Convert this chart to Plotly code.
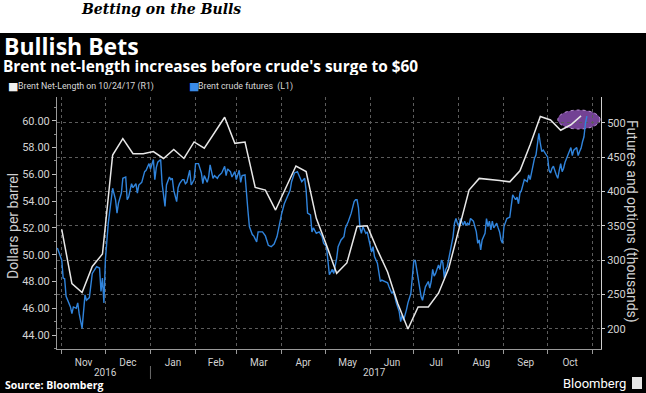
import plotly.graph_objects as go

# ---------------- data ----------------
crude_dates = [
    "2016-10-29", "2016-11-01", "2016-11-02", "2016-11-03", "2016-11-04", "2016-11-07", "2016-11-08",
    "2016-11-09", "2016-11-11", "2016-11-12", "2016-11-13", "2016-11-14", "2016-11-15", "2016-11-17",
    "2016-11-18", "2016-11-20", "2016-11-22", "2016-11-25", "2016-11-27", "2016-11-28", "2016-11-29",
    "2016-11-30", "2016-12-01", "2016-12-03", "2016-12-05", "2016-12-06", "2016-12-08", "2016-12-09",
    "2016-12-10", "2016-12-12", "2016-12-13", "2016-12-15", "2016-12-16", "2016-12-17", "2016-12-19",
    "2016-12-20", "2016-12-22", "2016-12-23", "2016-12-24", "2016-12-26", "2016-12-28", "2016-12-29",
    "2016-12-31", "2017-01-01", "2017-01-03", "2017-01-04", "2017-01-05", "2017-01-06", "2017-01-08",
    "2017-01-09", "2017-01-11", "2017-01-12", "2017-01-14", "2017-01-15", "2017-01-16", "2017-01-17",
    "2017-01-19", "2017-01-20", "2017-01-21", "2017-01-23", "2017-01-24", "2017-01-25", "2017-01-26",
    "2017-01-28", "2017-01-29", "2017-01-31", "2017-02-01", "2017-02-03", "2017-02-05", "2017-02-06",
    "2017-02-07", "2017-02-09", "2017-02-10", "2017-02-11", "2017-02-13", "2017-02-14", "2017-02-16",
    "2017-02-17", "2017-02-19", "2017-02-21", "2017-02-22", "2017-02-23", "2017-02-25", "2017-02-26",
    "2017-02-28", "2017-03-01", "2017-03-03", "2017-03-04", "2017-03-05", "2017-03-07", "2017-03-09",
    "2017-03-10", "2017-03-12", "2017-03-13", "2017-03-15", "2017-03-16", "2017-03-18", "2017-03-19",
    "2017-03-21", "2017-03-22", "2017-03-23", "2017-03-25", "2017-03-27", "2017-03-29", "2017-03-31",
    "2017-04-01", "2017-04-03", "2017-04-05", "2017-04-07", "2017-04-08", "2017-04-10", "2017-04-12",
    "2017-04-13", "2017-04-15", "2017-04-17", "2017-04-18", "2017-04-19", "2017-04-21", "2017-04-22",
    "2017-04-23", "2017-04-25", "2017-04-27", "2017-04-29", "2017-04-30", "2017-05-02", "2017-05-03",
    "2017-05-04", "2017-05-06", "2017-05-07", "2017-05-09", "2017-05-10", "2017-05-12", "2017-05-14",
    "2017-05-15", "2017-05-17", "2017-05-19", "2017-05-20", "2017-05-21", "2017-05-22", "2017-05-23",
    "2017-05-24", "2017-05-25", "2017-05-26", "2017-05-27", "2017-05-29", "2017-05-30", "2017-05-31",
    "2017-06-01", "2017-06-02", "2017-06-03", "2017-06-04", "2017-06-06", "2017-06-08", "2017-06-09",
    "2017-06-11", "2017-06-13", "2017-06-14", "2017-06-16", "2017-06-17", "2017-06-19", "2017-06-21",
    "2017-06-22", "2017-06-23", "2017-06-24", "2017-06-26", "2017-06-27", "2017-06-29", "2017-06-30",
    "2017-07-01", "2017-07-02", "2017-07-03", "2017-07-05", "2017-07-06", "2017-07-07", "2017-07-08",
    "2017-07-09", "2017-07-11", "2017-07-12", "2017-07-13", "2017-07-14", "2017-07-15", "2017-07-16",
    "2017-07-18", "2017-07-19", "2017-07-20", "2017-07-21", "2017-07-22", "2017-07-23", "2017-07-24",
    "2017-07-25", "2017-07-27", "2017-07-28", "2017-07-29", "2017-07-30", "2017-07-31", "2017-08-01",
    "2017-08-02", "2017-08-04", "2017-08-05", "2017-08-06", "2017-08-07", "2017-08-08", "2017-08-09",
    "2017-08-11", "2017-08-12", "2017-08-13", "2017-08-14", "2017-08-15", "2017-08-16", "2017-08-17",
    "2017-08-19", "2017-08-20", "2017-08-21", "2017-08-22", "2017-08-23", "2017-08-24", "2017-08-25",
    "2017-08-27", "2017-08-28", "2017-08-29", "2017-08-30", "2017-08-31", "2017-09-01", "2017-09-02",
    "2017-09-03", "2017-09-05", "2017-09-06", "2017-09-07", "2017-09-09", "2017-09-10", "2017-09-11",
    "2017-09-12", "2017-09-13", "2017-09-14", "2017-09-15", "2017-09-17", "2017-09-18", "2017-09-19",
    "2017-09-20", "2017-09-21", "2017-09-22", "2017-09-23", "2017-09-24", "2017-09-25", "2017-09-26",
    "2017-09-27", "2017-09-28", "2017-09-30", "2017-10-01", "2017-10-02", "2017-10-03", "2017-10-04",
    "2017-10-05", "2017-10-07", "2017-10-08", "2017-10-09", "2017-10-10", "2017-10-11", "2017-10-12",
    "2017-10-13", "2017-10-14", "2017-10-16", "2017-10-17", "2017-10-18", "2017-10-19", "2017-10-21",
    "2017-10-22", "2017-10-23", "2017-10-24", "2017-10-25", "2017-10-26", "2017-10-27", "2017-10-28",
]
crude_values = [
    50.5, 49.6, 48.25, 48.2, 46.9, 46.1, 45.6,
    46.1, 46.0, 46.4, 45.6, 45.1, 44.5, 47.0,
    46.6, 46.8, 48.6, 49.1, 49.0, 47.25, 48.25,
    46.4, 49.6, 52.35, 54.3, 54.96, 54.1, 53.1,
    53.85, 54.6, 55.7, 55.8, 54.1, 54.3, 55.3,
    55.0, 55.3, 54.6, 55.2, 55.4, 56.2, 56.3,
    56.8, 56.4, 57.1, 55.6, 56.5, 56.9, 57.1,
    55.3, 53.6, 55.2, 55.8, 55.6, 55.7, 54.8,
    53.96, 55.0, 55.3, 55.6, 55.6, 55.3, 55.4,
    56.3, 55.2, 55.6, 56.8, 56.8, 56.1, 55.3,
    55.9, 55.4, 55.8, 56.7, 55.7, 55.9, 55.7,
    55.9, 56.1, 56.6, 55.9, 56.4, 56.2, 55.8,
    56.2, 55.6, 56.3, 55.4, 55.9, 55.95, 53.3,
    52.1, 51.5, 51.4, 50.95, 51.7, 51.7, 51.7,
    51.4, 51.1, 50.7, 50.6, 50.8, 51.35, 52.6,
    52.97, 53.8, 54.3, 54.8, 55.45, 56.1, 56.2,
    55.9, 55.45, 55.7, 54.8, 53.1, 52.97, 51.7,
    52.0, 51.6, 51.7, 51.35, 50.85, 50.6, 49.37,
    48.5, 48.9, 48.6, 49.74, 50.6, 51.1, 51.35,
    52.0, 52.47, 53.1, 53.6, 53.96, 54.1, 54.1,
    53.5, 52.0, 51.6, 52.1, 51.6, 51.7, 51.2,
    50.6, 50.2, 50.6, 49.86, 49.37, 48.0, 48.1,
    48.0, 47.9, 47.6, 47.1, 47.3, 46.4, 45.75,
    45.0, 45.5, 45.1, 45.9, 46.4, 47.1, 48.6,
    49.5, 49.6, 48.9, 47.75, 46.9, 46.6, 47.0,
    47.6, 48.0, 47.5, 48.0, 48.9, 48.4, 48.6,
    49.24, 48.9, 49.6, 49.4, 48.25, 48.9, 49.1,
    49.6, 50.6, 51.35, 52.35, 52.7, 52.35, 52.1,
    52.7, 52.2, 52.5, 52.2, 52.35, 52.2, 52.7,
    52.5, 52.1, 51.7, 50.85, 51.1, 50.36, 51.1,
    51.6, 52.7, 52.1, 52.5, 51.85, 52.5, 52.0,
    52.35, 52.0, 51.7, 51.1, 50.85, 52.1, 52.35,
    52.7, 52.8, 53.6, 54.46, 54.1, 54.3, 53.8,
    54.6, 54.8, 55.2, 55.6, 55.45, 55.95, 55.6,
    56.2, 56.57, 57.2, 57.44, 58.3, 59.06, 58.3,
    57.7, 57.8, 57.44, 57.3, 56.3, 56.1, 56.45,
    56.6, 55.95, 55.7, 56.3, 56.8, 56.2, 56.45,
    56.9, 57.2, 57.8, 58.0, 57.4, 57.8, 58.0,
    57.4, 57.7, 57.94, 58.43, 58.8, 59.8, 60.35,
]

netlen_dates = [
    "2016-11-01", "2016-11-08", "2016-11-15", "2016-11-22", "2016-11-29", "2016-12-06", "2016-12-13",
    "2016-12-20", "2016-12-27", "2017-01-03", "2017-01-10", "2017-01-17", "2017-01-24", "2017-01-31",
    "2017-02-07", "2017-02-14", "2017-02-21", "2017-02-28", "2017-03-07", "2017-03-14", "2017-03-21",
    "2017-03-28", "2017-04-04", "2017-04-11", "2017-04-18", "2017-04-25", "2017-05-02", "2017-05-09",
    "2017-05-16", "2017-05-23", "2017-05-30", "2017-06-06", "2017-06-13", "2017-06-20", "2017-06-27",
    "2017-07-04", "2017-07-11", "2017-07-18", "2017-07-25", "2017-08-01", "2017-08-08", "2017-08-15",
    "2017-08-22", "2017-08-29", "2017-09-05", "2017-09-12", "2017-09-19", "2017-09-26", "2017-10-03",
    "2017-10-10", "2017-10-17", "2017-10-24",
]
netlen_values = [
    345, 266, 253, 291, 309, 453, 477,
    455, 455, 458, 448, 461, 448, 472,
    463, 485, 508, 470, 472, 406, 402,
    373, 405, 437, 429, 361, 322, 281,
    296, 349, 350, 315, 283, 237, 200,
    232, 232, 252, 288, 344, 402, 419,
    418, 416, 414, 430, 468, 509, 504,
    489, 497, 510,
]

left_ticks = [44, 46, 48, 50, 52, 54, 56, 58, 60]
right_ticks = [200, 250, 300, 350, 400, 450, 500]
year_labels = ["2016", "2017"]
year_centers = ["2016-12-01", "2017-06-04"]
year_break = "2017-01-01"
highlight_x = ["2017-10-08", "2017-11-06"]
highlight_y = [490.8, 518.5]

# ---------------- layout helpers ----------------
W, H = 646, 393
ML, MR, MT, MB = 57, 45, 97, 44
PW = W - ML - MR
PH = H - MT - MB


def px(x):
    return (x - ML) / PW


def py(y):
    return (H - MB - y) / PH


SANS = "Roboto, Liberation Sans, sans-serif"
TICK_FONT = dict(family=SANS, size=11, color="#d2d2d2")
XTICK_FONT = dict(family=SANS, size=10, color="#d2d2d2")
GRID = "#5c5c5c"

fig = go.Figure()
fig.add_trace(go.Scatter(
    x=crude_dates, y=crude_values, mode="lines", yaxis="y",
    line=dict(color="#3084dc", width=1.4), showlegend=False, hoverinfo="skip",
))
fig.add_trace(go.Scatter(
    x=netlen_dates, y=netlen_values, mode="lines", yaxis="y2",
    line=dict(color="#e8e8e8", width=1.5), showlegend=False, hoverinfo="skip",
))

fig.update_layout(
    width=W, height=H,
    margin=dict(l=ML, r=MR, t=MT, b=MB, autoexpand=False),
    paper_bgcolor="black", plot_bgcolor="black",
    xaxis=dict(
        type="date", range=["2016-10-28 18:00", "2017-11-06 17:00"],
        tick0="2016-11-01", dtick="M1", tickformat="%b", ticklabelmode="period",
        ticks="outside", ticklen=4, tickcolor="#9a9a9a",
        showgrid=True, gridcolor=GRID, griddash="dot", gridwidth=1,
        showline=True, linecolor="#9a9a9a", linewidth=1, zeroline=False,
        tickfont=XTICK_FONT,
    ),
    yaxis=dict(
        range=[42.96, 61.77], tickvals=left_ticks, ticktext=[f"{v:.2f}" for v in left_ticks],
        ticks="outside", ticklen=4, tickcolor="#bdbdbd",
        minor=dict(ticks="outside", ticklen=2, dtick=1, tickcolor="#8a8a8a", showgrid=False),
        showgrid=False, zeroline=False, showline=True, linecolor="#9a9a9a", linewidth=1,
        tickfont=TICK_FONT,
    ),
    yaxis2=dict(
        overlaying="y", side="right", range=[170.9, 537.4], tickvals=right_ticks,
        ticks="outside", ticklen=3, tickcolor="#cfcfcf",
        showgrid=True, gridcolor=GRID, griddash="dot", gridwidth=1,
        zeroline=False, showline=True, linecolor="#cfcfcf", linewidth=1,
        tickfont=TICK_FONT,
    ),
)

shapes = [
    # white band above the black chart panel
    dict(type="rect", xref="paper", yref="paper", x0=px(0), x1=px(W), y0=py(33), y1=py(0),
         fillcolor="white", line=dict(width=0), layer="below"),
    # divider between year labels
    dict(type="line", xref="x", yref="paper", x0=year_break, x1=year_break, y0=py(366), y1=py(379),
         line=dict(color="#6a6a6a", width=1)),
    # highlight ellipse
    dict(type="circle", xref="x", yref="y2", x0=highlight_x[0], x1=highlight_x[1],
         y0=highlight_y[0], y1=highlight_y[1], fillcolor="rgba(140,80,180,0.82)",
         line=dict(color="rgba(205,160,235,0.9)", width=1, dash="dot"), layer="below"),
    # logo square
    dict(type="rect", xref="paper", yref="paper", x0=px(632), x1=px(642), y0=py(389), y1=py(377),
         fillcolor="#e6e6e6", line=dict(width=0)),
]
fig.update_layout(shapes=shapes)

ann = []


def add_text(text, x, y, size, color="white", family="Open Sans", xanchor="left", angle=0, **kw):
    ann.append(dict(text=text, x=px(x), y=py(y), xref="paper", yref="paper", showarrow=False,
                    xanchor=xanchor, yanchor="middle", textangle=angle,
                    font=dict(family=family, size=size, color=color), **kw))


add_text("<b><i>Betting on the Bulls</i></b>", 79, 9, 14, color="black", family="DejaVu Serif")
add_text("<b>Bullish Bets</b>", 2, 45.5, 23, height=22)
add_text("<b>Brent net-length increases before crude's surge to $60</b>", 1, 66, 15.4, height=17)
add_text("■", 6, 87, 11, color="#f0f0f0", family="DejaVu Sans")
add_text("Brent Net-Length on 10/24/17 (R1)", 16, 87, 8.8, color="#d8d8d8", family=SANS)
add_text("■", 187, 87, 11, color="#3a8ae6", family="DejaVu Sans")
add_text("Brent crude futures  (L1)", 196, 87, 8.8, color="#d8d8d8", family=SANS)
add_text("Dollars per barrel", 13, 226, 14, color="#d0d0d0", family="Roboto", xanchor="center", angle=-90)
add_text("Futures and options (thousands)", 632, 221, 14, color="#d0d0d0", family="Roboto",
         xanchor="center", angle=90)
add_text("<b>Source: Bloomberg</b>", 3, 385, 10.5, color="white")
add_text("Bloomberg", 628, 383, 13, color="white", family="Roboto", xanchor="right")
for lab, cx in zip(year_labels, year_centers):
    ann.append(dict(text=lab, x=cx, y=py(372), xref="x", yref="paper", showarrow=False,
                    xanchor="center", yanchor="middle",
                    font=dict(family=SANS, size=10, color="#d2d2d2")))

fig.update_layout(annotations=ann)

fig.write_html(
    "out.html",
    config={"displayModeBar": False, "staticPlot": True},
    post_script="document.body.style.margin='0';document.body.style.overflow='hidden';",
)
